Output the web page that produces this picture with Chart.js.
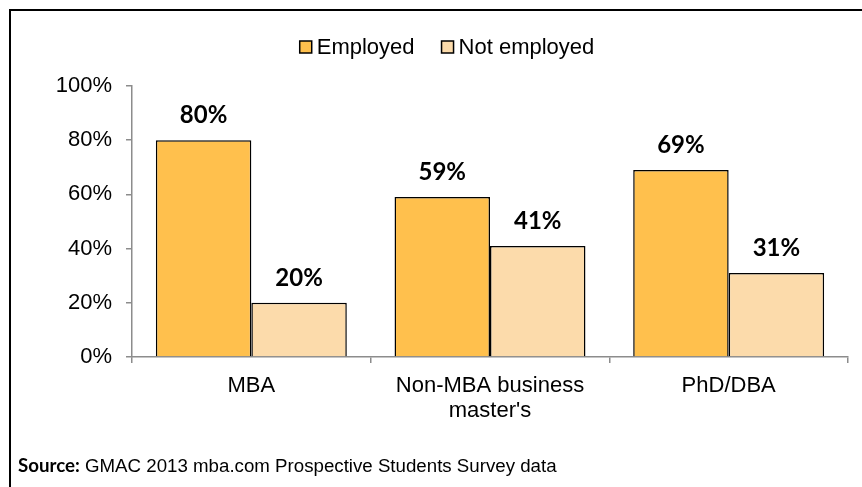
<!DOCTYPE html>
<html>
<head>
<meta charset="utf-8">
<script src="https://cdn.jsdelivr.net/npm/chart.js@4/dist/chart.umd.min.js"></script>
<style>
  html,body{margin:0;padding:0;background:#fff;}
  #wrap{position:relative;width:862px;height:487px;overflow:hidden;}
  #frame{position:absolute;left:9px;top:9px;width:900px;height:500px;border-top:2px solid #000;border-left:2px solid #000;}
  #c{position:absolute;left:0;top:0;}
  #src{position:absolute;left:18px;top:454px;font:18.7px 'Liberation Sans',Arial,sans-serif;line-height:22px;color:#000;white-space:nowrap;}
  #src b{font-family:'Lato','Open Sans',sans-serif;font-weight:700;}
</style>
</head>
<body>
<div id="wrap">
  <div id="frame"></div>
  <canvas id="c" width="862" height="487"></canvas>
  <div id="src"><b>Source:</b> GMAC 2013 mba.com Prospective Students Survey data</div>
</div>
<script>
const categories=[['MBA'],['Non-MBA business',"master's"],['PhD/DBA']];
const seriesNames=['Employed','Not employed'];
const employed=[80,59,69];
const notEmployed=[20,41,31];
const yTicks=[0,20,40,60,80,100];

const AXIS='#8c8c8c';
const ARIAL="'Liberation Sans',Arial,sans-serif";

// value labels drawn above every bar
const valueLabels={
  id:'valueLabels',
  afterDatasetsDraw(chart){
    const {ctx}=chart;
    ctx.save();
    ctx.font="700 24px 'Lato','Open Sans',sans-serif";
    ctx.fillStyle='#000';
    ctx.textAlign='center';
    ctx.textBaseline='alphabetic';
    chart.data.datasets.forEach((ds,di)=>{
      chart.getDatasetMeta(di).data.forEach((bar,i)=>{
        ctx.fillText(ds.data[i]+'%',bar.x,bar.y-17);
      });
    });
    ctx.restore();
  }
};

// Excel-style legend: small boxes, tight gap to the text
const topLegend={
  id:'topLegend',
  afterDraw(chart){
    const {ctx}=chart;
    const box=12,gap=5,itemGap=27,cy=47;
    ctx.save();
    ctx.font='22px '+ARIAL;
    const items=chart.data.datasets.map(ds=>({ds,w:box+gap+ctx.measureText(ds.label).width}));
    const total=items.reduce((a,it)=>a+it.w,0)+itemGap*(items.length-1);
    let x=447-total/2;
    ctx.textBaseline='middle';
    ctx.textAlign='left';
    items.forEach(it=>{
      ctx.fillStyle=it.ds.backgroundColor;
      ctx.fillRect(x,cy-box/2,box,box);
      ctx.strokeStyle='#000';ctx.lineWidth=1.5;
      ctx.strokeRect(x,cy-box/2,box,box);
      ctx.fillStyle='#000';
      ctx.fillText(it.ds.label,x+box+gap,cy+1);
      x+=it.w+itemGap;
    });
    ctx.restore();
  }
};

new Chart(document.getElementById('c'),{
  type:'bar',
  plugins:[valueLabels,topLegend],
  data:{
    labels:categories,
    datasets:[
      {label:seriesNames[0],data:employed,backgroundColor:'#FFC04D',borderColor:'#000',borderWidth:1.5,borderSkipped:'bottom'},
      {label:seriesNames[1],data:notEmployed,backgroundColor:'#FCDBAB',borderColor:'#000',borderWidth:1.5,borderSkipped:'bottom'}
    ]
  },
  options:{
    responsive:false,
    animation:false,
    layout:{padding:{top:86,right:14,left:0,bottom:0}},
    datasets:{bar:{categoryPercentage:0.8,barPercentage:1}},
    plugins:{
      legend:{display:false},
      tooltip:{enabled:false}
    },
    scales:{
      y:{
        min:0,max:100,
        afterBuildTicks(s){s.ticks=yTicks.map(v=>({value:v}));},
        afterFit(s){s.width=132;},
        border:{color:AXIS,width:1.5},
        grid:{drawOnChartArea:false,drawTicks:true,tickLength:6,color:AXIS,lineWidth:1.5},
        ticks:{color:'#000',padding:14,font:{family:ARIAL,size:22},callback:v=>v+'%'}
      },
      x:{
        afterFit(s){s.height=130;},
        border:{color:AXIS,width:1.5},
        grid:{offset:true,drawOnChartArea:false,drawTicks:true,tickLength:6,color:AXIS,lineWidth:1.5},
        ticks:{color:'#000',padding:10,maxRotation:0,font:{family:ARIAL,size:22,lineHeight:1.15}}
      }
    }
  }
});
</script>
</body>
</html>
